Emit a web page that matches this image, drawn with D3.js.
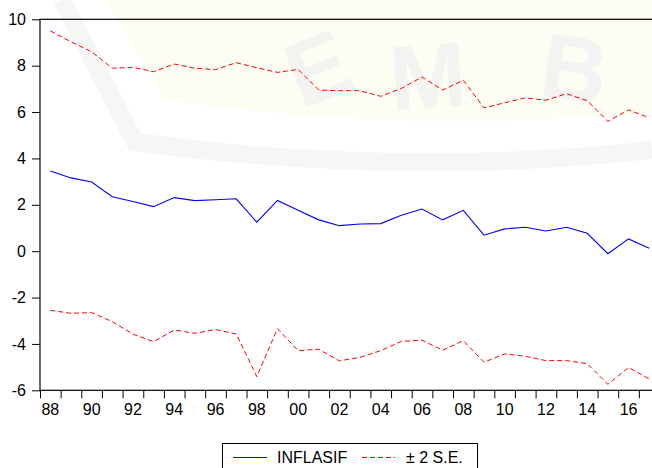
<!DOCTYPE html>
<html>
<head>
<meta charset="utf-8">
<script src="https://cdn.jsdelivr.net/npm/d3@7"></script>
<style>
  body { margin: 0; background: #ffffff; }
  svg { display: block; font-family: "Liberation Sans", Arial, sans-serif; }
</style>
</head>
<body>
<div id="chart"></div>
<script>
// forecast of INFLASIF with +/- 2 S.E. band, 1988-2017
const years = d3.range(1988, 2018);
const inflasif = [3.46, 3.16, 2.98, 2.35, 2.14, 1.92, 2.31, 2.18, 2.22, 2.26,
  1.25, 2.19, 1.76, 1.35, 1.10, 1.17, 1.19, 1.55, 1.82, 1.35,
  1.76, 0.69, 0.96, 1.03, 0.87, 1.03, 0.77, -0.11, 0.53, 0.13];
const upperSE = [9.50, 9.03, 8.60, 7.89, 7.93, 7.74, 8.07, 7.89, 7.83, 8.13,
  7.91, 7.71, 7.84, 6.95, 6.92, 6.92, 6.68, 7.02, 7.51, 6.95,
  7.37, 6.18, 6.40, 6.61, 6.51, 6.79, 6.49, 5.60, 6.09, 5.76];
const lowerSE = [-2.55, -2.68, -2.65, -3.04, -3.58, -3.90, -3.40, -3.54, -3.38, -3.57,
  -5.41, -3.34, -4.29, -4.23, -4.73, -4.58, -4.29, -3.89, -3.84, -4.27,
  -3.86, -4.79, -4.43, -4.53, -4.72, -4.72, -4.85, -5.74, -5.02, -5.51];
const yTicks = [-6, -4, -2, 0, 2, 4, 6, 8, 10];
const legendLabels = ["INFLASIF", "\u00b1 2 S.E."];

const canvWidth = 652, canvHeight = 468;
const plot = {left: 40, right: 659.5, top: 19.3, bottom: 390.3};

const svg = d3.select("#chart")
    .append("svg")
    .attr("width", canvWidth)
    .attr("height", canvHeight);

// faint watermark in the background
const wm = svg.append("g");
wm.append("path")
    .attr("d", "M105,0 L165,100 Q400,135 652,112 L652,0 Z")
    .attr("fill", "#fdfdf4");
wm.append("path")
    .attr("d", "M62,0 L135,142 Q400,178 652,150")
    .attr("fill", "none")
    .attr("stroke", "#f6f6f4")
    .attr("stroke-width", 18);
wm.selectAll("text")
    .data([["E", 330, 98, -22], ["M", 430, 108, -4], ["B", 570, 100, 8]])
    .enter()
    .append("text")
    .attr("transform", d => `translate(${d[1]},${d[2]}) rotate(${d[3]})`)
    .attr("text-anchor", "middle")
    .style("font-size", "92px")
    .style("font-weight", "bold")
    .style("fill", "#f3f3f2")
    .text(d => d[0]);

// scales
const xBand = d3.scaleBand()
    .domain(years)
    .range([plot.left, plot.right])
    .padding(0);
const xEdge = d3.scaleLinear()
    .domain([1988, 2018])
    .range([plot.left, plot.right]);
const yScale = d3.scaleLinear()
    .domain([-6, 10])
    .range([plot.bottom, plot.top]);
const xPos = d => xBand(d) + xBand.bandwidth() / 2;

// y axis
svg.append("g")
    .attr("transform", `translate(${plot.left},0)`)
    .style("font-size", "16px")
    .call(d3.axisLeft(yScale).tickValues(yTicks).tickSize(8).tickPadding(6)
        .tickFormat(d => String(d)))
    .call(g => g.select(".domain").remove())
    .call(g => g.selectAll("text").attr("fill", "#000"));

// x axis ticks at year boundaries
svg.append("g")
    .attr("transform", `translate(0,${plot.bottom})`)
    .call(d3.axisBottom(xEdge).tickValues(d3.range(1988, 2019)).tickSize(8).tickFormat(""))
    .call(g => g.select(".domain").remove());

// x labels every other year, centred in the year
svg.append("g")
    .attr("transform", `translate(0,${plot.bottom})`)
    .style("font-size", "16px")
    .call(d3.axisBottom(xBand).tickValues(years.filter(y => y % 2 === 0)).tickSize(0).tickPadding(13.5)
        .tickFormat(y => String(y).slice(2)))
    .call(g => g.select(".domain").remove())
    .call(g => g.selectAll("text").attr("fill", "#000"));

// frame
svg.append("rect")
    .attr("x", plot.left)
    .attr("y", plot.top)
    .attr("width", plot.right - plot.left)
    .attr("height", plot.bottom - plot.top)
    .attr("fill", "none")
    .attr("stroke", "#000")
    .attr("stroke-width", 1.2);

// lines
const line = d3.line()
    .x((d, i) => xPos(years[i]))
    .y(d => yScale(d));

svg.append("path")
    .datum(upperSE)
    .attr("d", line)
    .attr("fill", "none")
    .attr("stroke", "#ff0000")
    .attr("stroke-width", 1)
    .attr("stroke-dasharray", "5,3");
svg.append("path")
    .datum(lowerSE)
    .attr("d", line)
    .attr("fill", "none")
    .attr("stroke", "#ff0000")
    .attr("stroke-width", 1)
    .attr("stroke-dasharray", "5,3");
svg.append("path")
    .datum(inflasif)
    .attr("d", line)
    .attr("fill", "none")
    .attr("stroke", "#0000ff")
    .attr("stroke-width", 1.1);

// legend
const legend = svg.append("g");
legend.append("rect")
    .attr("x", 222.5)
    .attr("y", 443.5)
    .attr("width", 255)
    .attr("height", 30)
    .attr("fill", "#fff")
    .attr("stroke", "#000")
    .attr("stroke-width", 1);
legend.append("line")
    .attr("x1", 233).attr("x2", 267)
    .attr("y1", 457.5).attr("y2", 457.5)
    .attr("stroke", "#0000ff");
legend.append("text")
    .attr("x", 277)
    .attr("y", 463)
    .style("font-size", "16px")
    .text(legendLabels[0]);
legend.append("line")
    .attr("x1", 362).attr("x2", 395)
    .attr("y1", 457.5).attr("y2", 457.5)
    .attr("stroke", "#ff0000")
    .attr("stroke-dasharray", "5,3");
legend.append("text")
    .attr("x", 406)
    .attr("y", 463)
    .style("font-size", "16px")
    .text(legendLabels[1]);
</script>
</body>
</html>
